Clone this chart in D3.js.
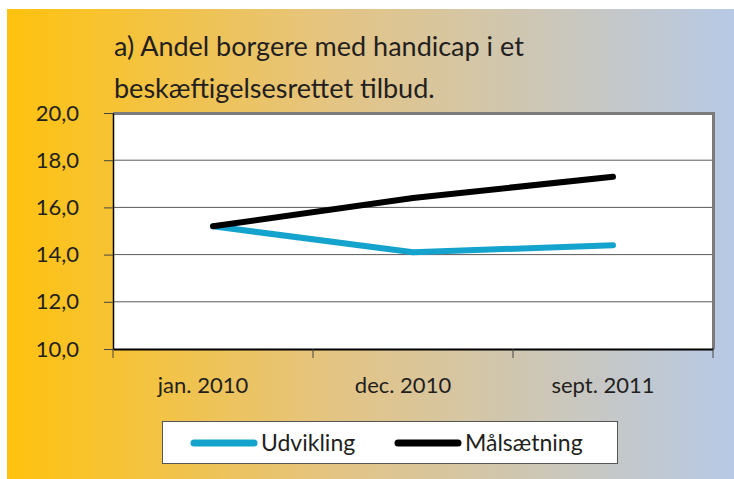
<!DOCTYPE html>
<html>
<head>
<meta charset="utf-8">
<script src="https://cdn.jsdelivr.net/npm/d3@7"></script>
<style>
  body { margin: 0; background: #fff; }
  svg text { font-family: Lato, "DejaVu Sans", sans-serif; fill: #231f20; }
</style>
</head>
<body>
<svg id="chart" width="734" height="479"></svg>
<script>
// data
var categories = ["jan. 2010", "dec. 2010", "sept. 2011"];
var udvikling = [15.2, 14.1, 14.4];
var maalsaetning = [15.2, 16.4, 17.3];
var yTicks = [10, 12, 14, 16, 18, 20];
var titleLines = ["a) Andel borgere med handicap i et", "beskæftigelsesrettet tilbud."];
var seriesNames = ["Udvikling", "Målsætning"];
var seriesColors = ["#14a3cc", "#000000"];

var svg = d3.select('#chart');
var W = 734, H = 479;
var pLeft = 113, pRight = 713, pTop = 113, pBottom = 349;

// background panel with horizontal gradient
var grad = svg.append('defs').append('linearGradient').attr('id', 'bg')
    .attr('x1', '0%').attr('x2', '100%').attr('y1', '0%').attr('y2', '0%');
grad.append('stop').attr('offset', '0%').attr('stop-color', '#ffc20e');
grad.append('stop').attr('offset', '45%').attr('stop-color', '#e4c483');
grad.append('stop').attr('offset', '100%').attr('stop-color', '#b7c9e6');
svg.append('rect').attr('x', 7).attr('y', 9).attr('width', W - 7).attr('height', H - 9)
    .attr('fill', 'url(#bg)');

// title
var title = svg.append('g');
titleLines.forEach(function (t, i) {
    title.append('text').attr('x', 114).attr('y', 56 + i * 42)
        .attr('font-size', 27).text(t);
});

var x = d3.scaleBand().domain(categories).range([pLeft, pRight]).padding(0);
var y = d3.scaleLinear().domain([10, 20]).range([pBottom, pTop]);
var fmt = d3.formatLocale({decimal: ",", thousands: ".", grouping: [3], currency: ["", " kr"]}).format(".1f");

// plot area
svg.append('rect').attr('x', pLeft).attr('y', pTop).attr('width', pRight - pLeft).attr('height', pBottom - pTop)
    .attr('fill', '#fff');

// gridlines
svg.append('g').selectAll('line').data(yTicks.slice(1, -1)).enter().append('line')
    .attr('x1', pLeft).attr('x2', pRight)
    .attr('y1', function (d) { return y(d); }).attr('y2', function (d) { return y(d); })
    .attr('stroke', '#5a5a5a').attr('stroke-width', 1);

// plot border: gray top/right
svg.append('path')
    .attr('d', 'M' + pLeft + ',' + (pTop + 0.5) + 'H' + (pRight + 0.5) + 'V' + pBottom)
    .attr('fill', 'none').attr('stroke', '#7b7b7b').attr('stroke-width', 3);

// y axis
var yAxis = svg.append('g').attr('transform', 'translate(' + pLeft + ',0)')
    .call(d3.axisLeft(y).tickValues(yTicks).tickFormat(fmt).tickSizeInner(9).tickSizeOuter(0).tickPadding(25));
yAxis.select('.domain').attr('stroke', '#000').attr('stroke-width', 1.5);
yAxis.selectAll('.tick line').attr('stroke', '#444');
yAxis.selectAll('text').attr('font-size', 22).attr('font-family', 'Lato, sans-serif').attr('fill', '#231f20');

// x axis
var xAxis = svg.append('g').attr('transform', 'translate(0,' + pBottom + ')')
    .call(d3.axisBottom(x).tickSize(0).tickPadding(28));
xAxis.select('.domain').attr('stroke', '#000').attr('stroke-width', 2);
xAxis.selectAll('text').attr('font-size', 22).attr('dx', -10)
    .attr('font-family', 'Lato, sans-serif').attr('fill', '#231f20');
// category boundary ticks
var bounds = categories.map(function (c) { return x(c); }).concat([x(categories[categories.length - 1]) + x.bandwidth()]);
xAxis.selectAll('.bound').data(bounds).enter().append('line').attr('class', 'bound')
    .attr('x1', function (d) { return d; }).attr('x2', function (d) { return d; })
    .attr('y1', 0).attr('y2', 9).attr('stroke', '#444');

// lines
var line = d3.line()
    .x(function (d, i) { return x(categories[i]) + x.bandwidth() / 2; })
    .y(function (d) { return y(d); });
[udvikling, maalsaetning].forEach(function (s, i) {
    svg.append('path').datum(s).attr('d', line)
        .attr('fill', 'none').attr('stroke', seriesColors[i]).attr('stroke-width', 6)
        .attr('stroke-linecap', 'round').attr('stroke-linejoin', 'round');
});

// legend
var lg = svg.append('g');
lg.append('rect').attr('x', 162.5).attr('y', 421.5).attr('width', 455).attr('height', 42)
    .attr('fill', '#fff').attr('stroke', '#555').attr('stroke-width', 1);
var lx = [194, 398];
seriesNames.forEach(function (n, i) {
    lg.append('line').attr('x1', lx[i]).attr('x2', lx[i] + 60).attr('y1', 443).attr('y2', 443)
        .attr('stroke', seriesColors[i]).attr('stroke-width', 7).attr('stroke-linecap', 'round');
    lg.append('text').attr('x', lx[i] + 67).attr('y', 451).attr('font-size', 23).text(n);
});
</script>
</body>
</html>
